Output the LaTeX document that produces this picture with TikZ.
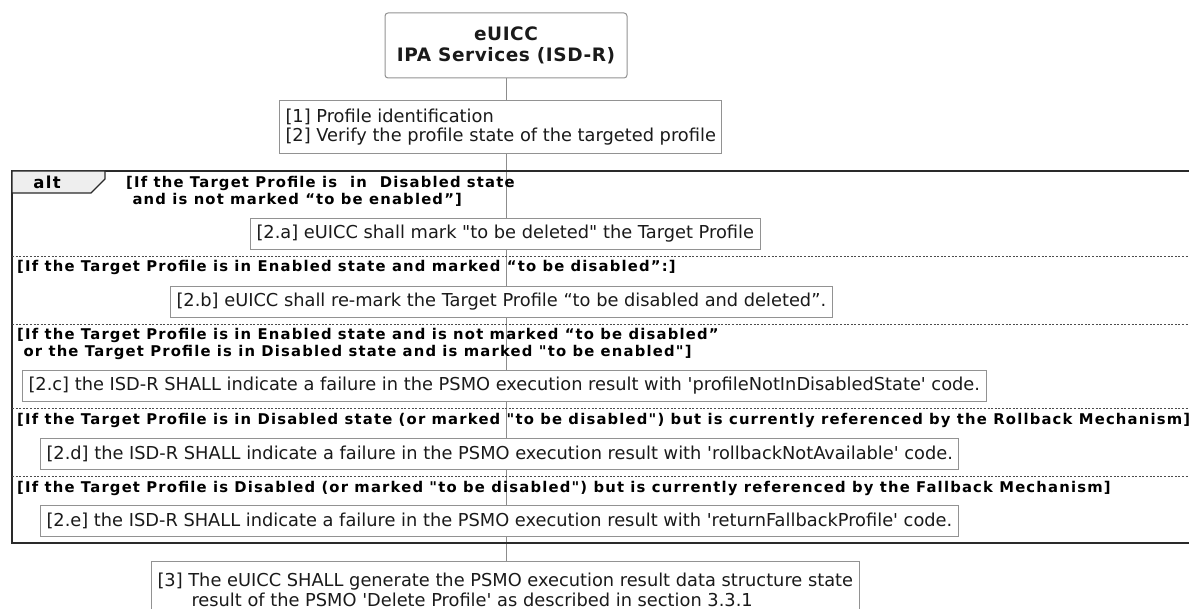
\documentclass[tikz,border=0pt]{standalone}
\usepackage{fontspec}
\setmainfont[Ligatures=TeXOff]{DejaVu Sans}
\newfontfamily\condfont[Ligatures=TeXOff,LetterSpace=8]{DejaVu Sans Bold}
\newfontfamily\titlefont[Ligatures=TeXOff,LetterSpace=3]{DejaVu Sans Bold}
\usetikzlibrary{backgrounds}
\definecolor{boxgray}{HTML}{929292}
\definecolor{lifegray}{HTML}{8C8C8C}
\definecolor{framecol}{HTML}{2A2A2A}
\definecolor{tabfill}{HTML}{EEEEEE}
\definecolor{txt}{HTML}{1A1A1A}
\begin{document}
\begin{tikzpicture}[x=1pt,y=-1pt,
  note/.style={draw=boxgray, fill=white, line width=1pt, anchor=north west, align=left,
    inner xsep=6pt, inner ysep=0pt, minimum height=31pt,
    font=\fontsize{17.8}{19.6}\selectfont, text=txt},
  cond/.style={anchor=west, inner sep=0pt, align=left,
    font=\condfont\fontsize{14.8}{17}\selectfont, text=black},
  titlebox/.style={draw=boxgray, fill=white, line width=1pt, rounded corners=3pt, align=center,
    font=\titlefont\fontsize{18.5}{21}\selectfont, text=txt, inner sep=0pt},
  life/.style={draw=lifegray, line width=1pt},
  framebox/.style={draw=framecol, line width=2.2pt},
  sepline/.style={draw=black!70, line width=0.9pt, dash pattern=on 2pt off 1.6pt},
  tab/.style={fill=tabfill, draw=framecol, line width=1.4pt, line join=miter},
  alttext/.style={font=\condfont\fontsize{16.5}{18}\selectfont, text=black, inner sep=0pt}
]
\useasboundingbox (0,0) rectangle (1189,609);
\clip (0,0) rectangle (1189,609);

% title
\node[titlebox, minimum width=242pt, minimum height=65pt] (title) at (506,45.5) {eUICC\\IPA Services (ISD-R)};

% step 1
\node[note, minimum height=53pt] (n1) at (279,100)
  {[1] Profile identification\\{}[2] Verify the profile state of the targeted profile};

% alt frame
\draw[framebox] (12,171) rectangle (1215,543);
\draw[tab] (12,171) -- (105,171) -- (105,179) -- (91,193) -- (12,193) -- cycle;
\node[alttext] (alt) at (47,182.5) {alt};

% condition 1
\node[cond] (c1) at (126,191.5) {[If the Target Profile is\hspace{13pt}in\hspace{13pt}Disabled state\\\ and is not marked “to be enabled”]};
\node[note] (n2a) at (250,218)
  {[2.a] eUICC shall mark "to be deleted" the Target Profile};

% condition 2
\draw[sepline] (12,256.5) -- (1215,256.5);
\node[cond] (c2) at (17,267) {[If the Target Profile is in Enabled state and marked “to be disabled”:]};
\node[note] (n2b) at (170,286)
  {[2.b] eUICC shall re-mark the Target Profile “to be disabled and deleted”.};

% condition 3
\draw[sepline] (12,324) -- (1215,324);
\node[cond] (c3) at (17,343.5) {[If the Target Profile is in Enabled state and is not marked “to be disabled”\\\ or the Target Profile is in Disabled state and is marked "to be enabled"]};
\node[note] (n2c) at (22,370)
  {[2.c] the ISD-R SHALL indicate a failure in the PSMO execution result with 'profileNotInDisabledState' code.};

% condition 4
\draw[sepline] (12,408.5) -- (1215,408.5);
\node[cond] (c4) at (17,420) {[If the Target Profile is in Disabled state (or marked "to be disabled") but is currently referenced by the Rollback Mechanism]};
\node[note] (n2d) at (40,438)
  {[2.d] the ISD-R SHALL indicate a failure in the PSMO execution result with 'rollbackNotAvailable' code.};

% condition 5
\draw[sepline] (12,476) -- (1215,476);
\node[cond] (c5) at (17,488) {[If the Target Profile is Disabled (or marked "to be disabled") but is currently referenced by the Fallback Mechanism]};
\node[note] (n2e) at (40,505)
  {[2.e] the ISD-R SHALL indicate a failure in the PSMO execution result with 'returnFallbackProfile' code.};

% step 3
\node[note, minimum height=57pt] (n3) at (151,561)
  {[3] The eUICC SHALL generate the PSMO execution result data structure state\\\hspace*{34pt}result of the PSMO 'Delete Profile' as described in section 3.3.1};

% lifeline
\begin{pgfonlayer}{background}
\draw[life] (title.south) -- (n1.north -| title.south);
\draw[life] (n1.south -| title.south) -- (n3.north -| title.south);
\end{pgfonlayer}
\end{tikzpicture}
\end{document}
